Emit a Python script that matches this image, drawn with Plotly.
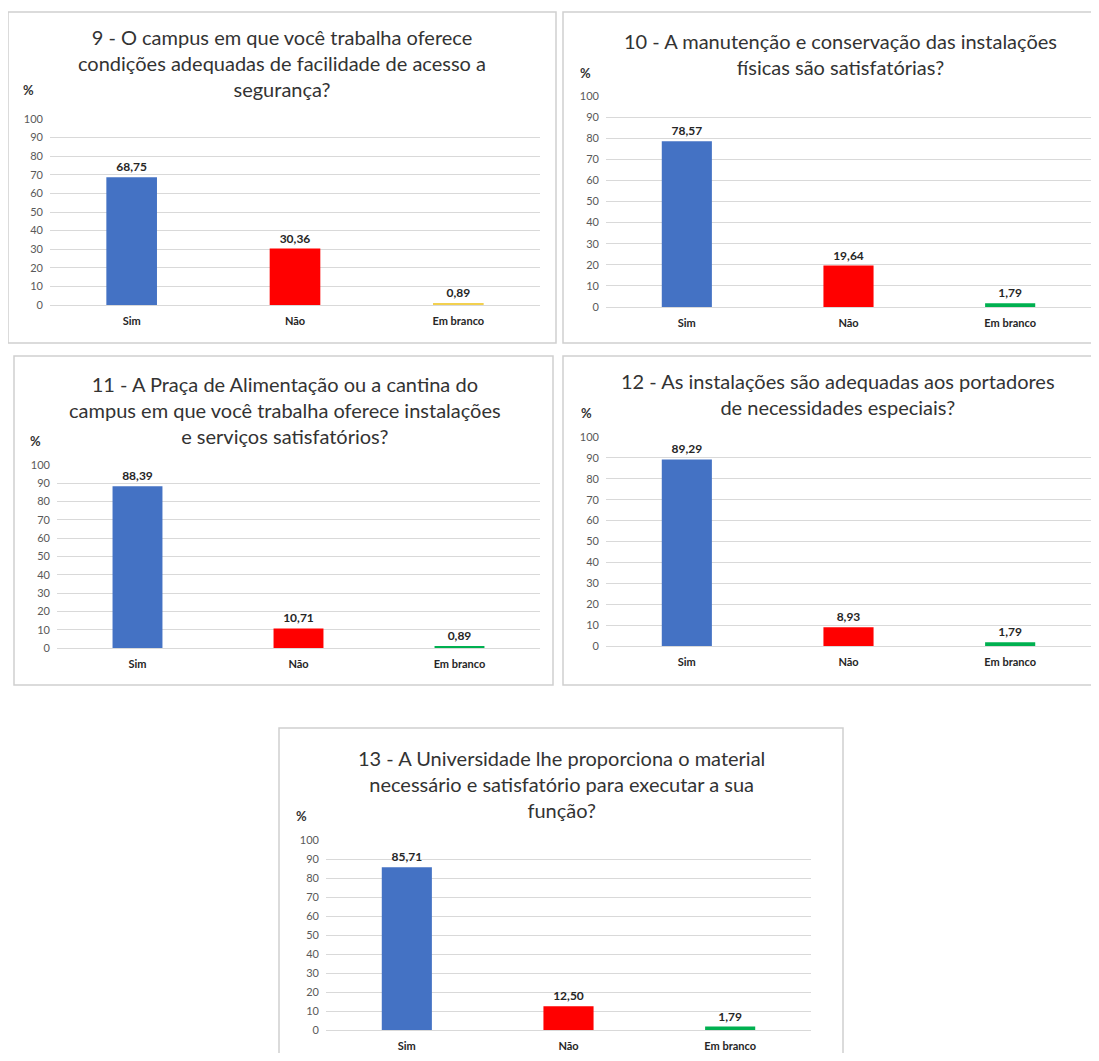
import plotly.graph_objects as go

# the page body keeps its default 8px margin, so the figure is drawn 16px smaller
OFF = 8
W, H = 1099 - 2 * OFF, 1061 - 2 * OFF

categories = ["Sim", "Não", "Em branco"]

titles = [
    "9 - O campus em que você trabalha oferece<br>condições adequadas de facilidade de acesso a<br>segurança?",
    "10 - A manutenção e conservação das instalações<br>físicas são satisfatórias?",
    "11 - A Praça de Alimentação ou a cantina do<br>campus em que você trabalha oferece instalações<br>e serviços satisfatórios?",
    "12 - As instalações são adequadas aos portadores<br>de necessidades especiais?",
    "13 - A Universidade lhe proporciona o material<br>necessário e satisfatório para executar a sua<br>função?",
]

q9_values = [68.75, 30.36, 0.89]
q10_values = [78.57, 19.64, 1.79]
q11_values = [88.39, 10.71, 0.89]
q12_values = [89.29, 8.93, 1.79]
q13_values = [85.71, 12.50, 1.79]
all_values = [q9_values, q10_values, q11_values, q12_values, q13_values]

y_ticks = list(range(0, 101, 10))

BLUE, RED, GREEN, YELLOW = "#4472C4", "#FF0000", "#00B050", "#F2D04F"
bar_colors = [
    [BLUE, RED, YELLOW],
    [BLUE, RED, GREEN],
    [BLUE, RED, GREEN],
    [BLUE, RED, GREEN],
    [BLUE, RED, GREEN],
]

# panel layout in page pixels: border box, plot box, title centre, "%" position
panels = [
    dict(box=(8, 12, 556, 343), plot=(50, 119, 540, 305), title=(282, 63), pct=(28, 90)),
    dict(box=(563, 12, 1110, 343), plot=(606, 96, 1097, 307), title=(840, 54), pct=(585, 73)),
    dict(box=(14, 356, 553, 685), plot=(57, 465, 540, 648), title=(285, 410), pct=(35, 441)),
    dict(box=(563, 356, 1110, 685), plot=(606, 437, 1097, 646), title=(838, 394), pct=(586, 413)),
    dict(box=(279, 728, 843, 1075), plot=(326, 840, 811, 1030), title=(561, 784), pct=(301, 816)),
]


def px(x):
    return (x - OFF) / W


def py(y):
    return 1 - (y - OFF) / H


FONT = "Lato"
fig = go.Figure()
shapes = []
annotations = []

for i, (p, vals) in enumerate(zip(panels, all_values)):
    n = i + 1
    xa = "x" if n == 1 else f"x{n}"
    ya = "y" if n == 1 else f"y{n}"
    labels = [f"{v:.2f}".replace(".", ",") for v in vals]
    fig.add_trace(go.Bar(
        x=categories, y=vals, text=labels, textposition="outside",
        textfont=dict(family=FONT, size=12, color="#262626", weight="bold"),
        marker=dict(color=bar_colors[i], line=dict(width=0)),
        width=0.31, cliponaxis=False, showlegend=False,
        xaxis=xa, yaxis=ya,
    ))
    x0, y0, x1, y1 = p["plot"]
    fig.update_layout(**{
        ("xaxis" if n == 1 else f"xaxis{n}"): dict(
            domain=[px(x0), min(px(x1), 1)], anchor=ya, showgrid=False,
            showline=False, zeroline=False, ticks="", automargin=False,
            tickfont=dict(family=FONT, size=11, color="#262626", weight="bold"),
            ticklabelstandoff=8, fixedrange=True,
        ),
        ("yaxis" if n == 1 else f"yaxis{n}"): dict(
            domain=[py(y1), py(y0)], anchor=xa, range=[0, 100],
            tickvals=y_ticks, showgrid=True, gridcolor="#D9D9D9", gridwidth=1,
            zeroline=True, zerolinecolor="#D9D9D9", zerolinewidth=1,
            showline=False, ticks="", automargin=False,
            tickfont=dict(family=FONT, size=11, color="#595959"),
            ticklabelstandoff=6, fixedrange=True,
        ),
    })
    bx0, by0, bx1, by1 = p["box"]
    shapes.append(dict(type="rect", xref="paper", yref="paper",
                       x0=px(bx0), x1=px(bx1), y0=py(by1), y1=py(by0),
                       line=dict(color="#D0D0D0", width=1.5), layer="below"))
    tx, ty = p["title"]
    annotations.append(dict(text=titles[i], xref="paper", yref="paper",
                            x=px(tx), y=py(ty), xanchor="center", yanchor="middle",
                            showarrow=False, align="center",
                            font=dict(family=FONT, size=20, color="#333333")))
    cx, cy = p["pct"]
    annotations.append(dict(text="%", xref="paper", yref="paper",
                            x=px(cx), y=py(cy), xanchor="center", yanchor="middle",
                            showarrow=False,
                            font=dict(family=FONT, size=13, color="#333333", weight="bold")))

fig.update_layout(
    width=W, height=H, margin=dict(l=0, r=0, t=0, b=0),
    paper_bgcolor="white", plot_bgcolor="white",
    shapes=shapes, annotations=annotations, bargap=0.69,
)

fig.write_html("out.html")
